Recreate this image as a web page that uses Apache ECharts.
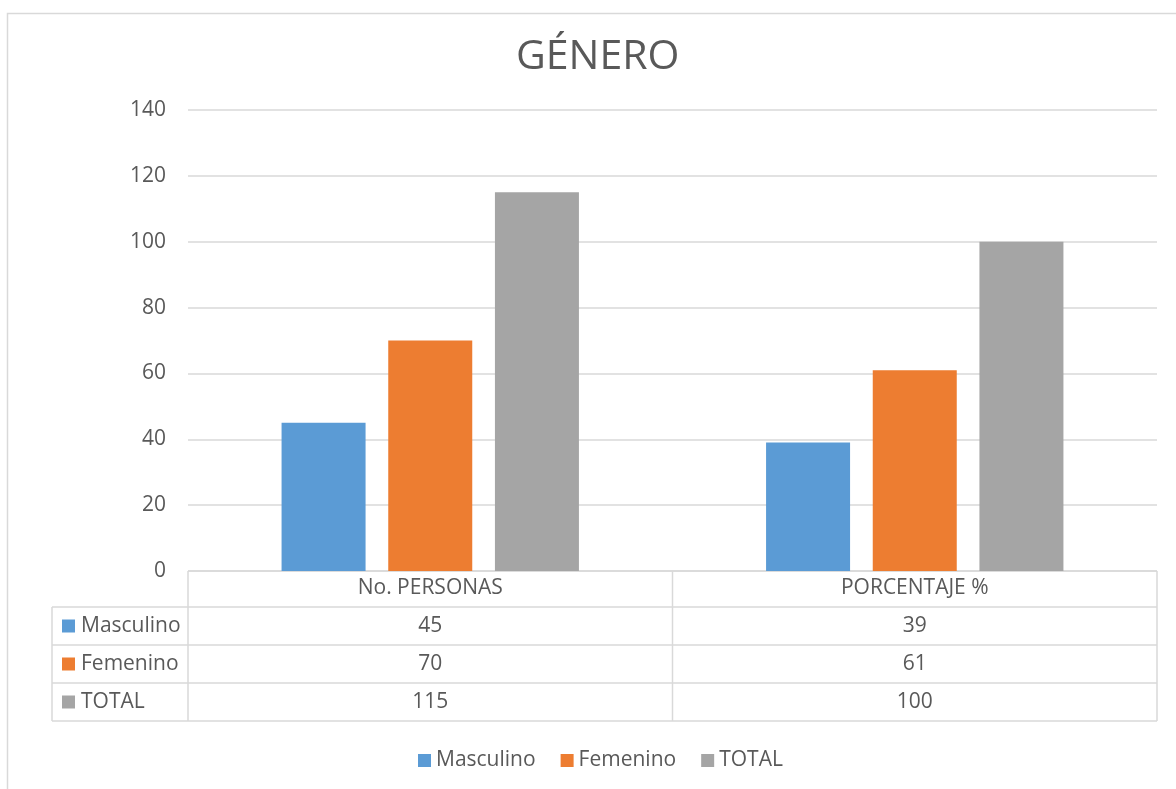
<!DOCTYPE html>
<html>
<head>
<meta charset="utf-8">
<script src="https://cdn.jsdelivr.net/npm/echarts@6/dist/echarts.min.js"></script>
<style>html,body{margin:0;padding:0;background:#fff}#c{width:1176px;height:789px}</style>
</head>
<body>
<div id="c"></div>
<script>
const titleText = 'GÉNERO';
const categories = ['No. PERSONAS', 'PORCENTAJE %'];
const seriesNames = ['Masculino', 'Femenino', 'TOTAL'];
const masculino = [45, 39];
const femenino = [70, 61];
const total = [115, 100];
const yMin = 0, yMax = 140, yStep = 20;

const colors = ['#5b9bd5', '#ed7d31', '#a5a5a5'];
const seriesData = [masculino, femenino, total];
const FONT = 'Open Sans';
const TXT = '#595959';
const LINE = '#d9d9d9';
const FS = 21;

const chart = echarts.init(document.getElementById('c'));
const option = {
  animation: false,
  backgroundColor: '#fff',
  textStyle: { fontFamily: FONT },
  title: {
    text: titleText, left: 511, top: 32,
    textStyle: { fontFamily: FONT, fontSize: 41, fontWeight: 'normal', color: TXT }
  },
  legend: {
    data: seriesNames, top: 745, left: 413, icon: 'rect',
    itemWidth: 13, itemHeight: 13, itemGap: 25,
    textStyle: { fontFamily: FONT, fontSize: FS, color: TXT }
  },
  grid: { left: 188, right: 19, top: 110, bottom: 218, containLabel: false },
  xAxis: {
    type: 'category', data: categories,
    axisLine: { show: false }, axisTick: { show: false },
    axisLabel: { margin: 7, fontFamily: FONT, fontSize: FS, color: TXT }
  },
  yAxis: {
    type: 'value', min: yMin, max: yMax, interval: yStep,
    axisLine: { show: false }, axisTick: { show: false },
    axisLabel: { margin: 22, fontFamily: FONT, fontSize: FS, color: TXT },
    splitLine: { lineStyle: { color: LINE, width: 1.5 } }
  },
  series: seriesNames.map((n, i) => ({
    name: n, type: 'bar', data: seriesData[i], barWidth: 84, barGap: '27%',
    itemStyle: { color: colors[i] }
  }))
};
chart.setOption(option);

// Data table under the plot
const x0 = chart.convertToPixel({ xAxisIndex: 0 }, 0);
const x1 = chart.convertToPixel({ xAxisIndex: 0 }, 1);
const band = x1 - x0;
const colEdges = [x0 - band / 2, x0 + band / 2, x1 + band / 2];
const yBase = chart.convertToPixel({ yAxisIndex: 0 }, 0);
const headerH = 36, rowH = 38;
const leftX = 52;
const rowTops = [yBase + headerH, yBase + headerH + rowH, yBase + headerH + 2 * rowH];
const tableBottom = yBase + headerH + 3 * rowH;
const g = [];
const ls = { stroke: LINE, lineWidth: 1.5 };
g.push({ type: 'line', shape: { x1: colEdges[0], y1: yBase, x2: colEdges[2], y2: yBase }, style: ls });
rowTops.concat([tableBottom]).forEach(y => g.push({ type: 'line', shape: { x1: leftX, y1: y, x2: colEdges[2], y2: y }, style: ls }));
colEdges.forEach(x => g.push({ type: 'line', shape: { x1: x, y1: yBase, x2: x, y2: tableBottom }, style: ls }));
g.push({ type: 'line', shape: { x1: leftX, y1: rowTops[0], x2: leftX, y2: tableBottom }, style: ls });
seriesNames.forEach((n, i) => {
  const cy = rowTops[i] + rowH / 2;
  g.push({ type: 'rect', shape: { x: leftX + 10, y: cy - 6.5, width: 13, height: 13 }, style: { fill: colors[i] } });
  g.push({ type: 'text', x: leftX + 29, y: cy, style: { text: n, font: FS + 'px "' + FONT + '"', fill: TXT, verticalAlign: 'middle', align: 'left' } });
  [x0, x1].forEach((cx, j) => {
    g.push({ type: 'text', x: cx, y: cy, style: { text: String(seriesData[i][j]), font: FS + 'px "' + FONT + '"', fill: TXT, verticalAlign: 'middle', align: 'center' } });
  });
});
g.push({ type: 'rect', shape: { x: 7.5, y: 13.5, width: 1300, height: 900 }, style: { fill: 'none', stroke: LINE, lineWidth: 1.5 } });
chart.setOption({ graphic: { elements: g } });
</script>
</body>
</html>
